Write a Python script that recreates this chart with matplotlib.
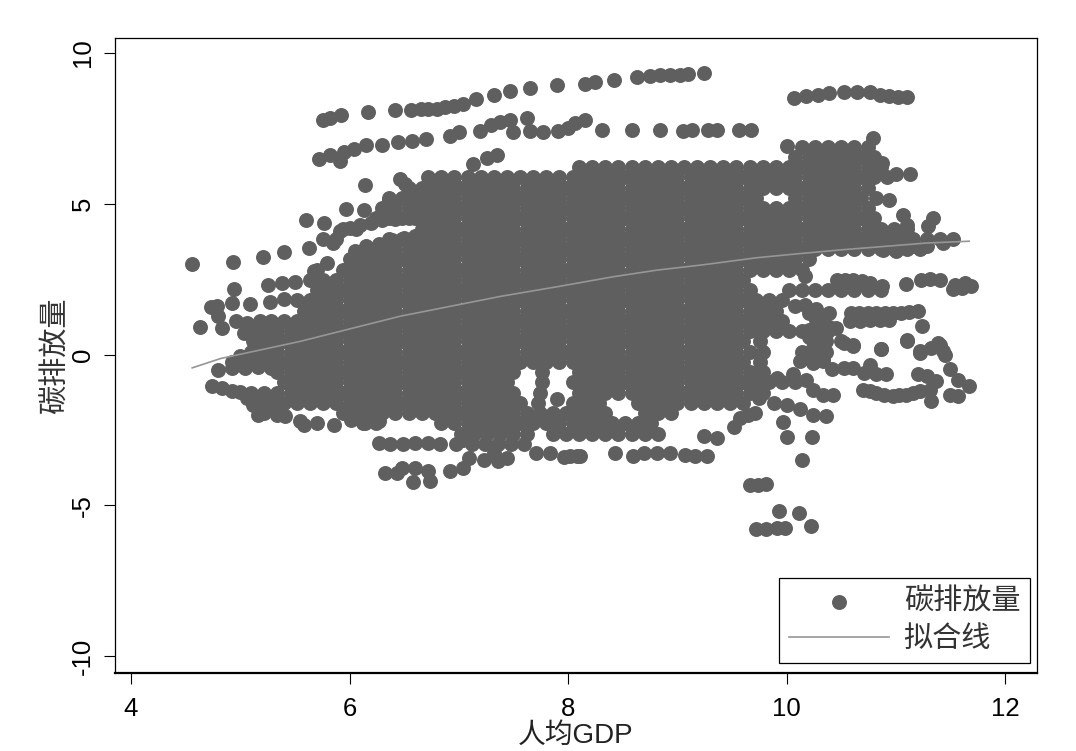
import matplotlib
matplotlib.use('Agg')
import matplotlib.pyplot as plt

plt.rcParams['font.family'] = ['Liberation Sans', 'Noto Sans CJK SC']
plt.rcParams['axes.unicode_minus'] = False

# 上方和外围能看清的点
top_x = [5.76, 5.82, 5.92, 6.17, 6.42, 6.56, 6.65, 6.72, 6.80, 6.87, 6.96, 7.04, 7.16, 7.32, 7.47, 7.65, 7.90,
         8.155, 8.25, 8.42, 8.63, 8.75, 8.84, 8.93, 9.02, 9.10, 9.24,
         10.07, 10.18, 10.29, 10.39, 10.52, 10.64, 10.76, 10.85, 10.94, 11.02, 11.10,
         5.72, 5.82, 5.91, 5.95, 6.04, 6.15, 6.30, 6.44, 6.57, 6.70, 6.92, 7.00, 7.19, 7.29, 7.38, 7.47, 7.62,
         7.50, 7.65, 7.77, 7.91, 8.00, 8.06, 8.15, 8.31, 8.58, 8.84, 9.05, 9.13, 9.28, 9.36, 9.56, 9.67,
         7.13, 7.26, 7.35, 6.14, 6.46, 6.51, 5.60, 5.77, 5.97, 6.13, 5.63, 5.40, 5.21, 4.93, 4.56]
top_y = [7.79, 7.85, 7.93, 8.04, 8.12, 8.12, 8.14, 8.15, 8.15, 8.21, 8.26, 8.32, 8.48, 8.62, 8.73, 8.84, 8.93,
         8.97, 9.03, 9.12, 9.22, 9.25, 9.27, 9.27, 9.28, 9.31, 9.33,
         8.51, 8.57, 8.62, 8.68, 8.70, 8.72, 8.70, 8.60, 8.57, 8.55, 8.53,
         6.50, 6.63, 6.41, 6.71, 6.82, 6.96, 6.96, 7.05, 7.10, 7.16, 7.26, 7.39, 7.43, 7.63, 7.70, 7.79, 7.85,
         7.38, 7.41, 7.38, 7.41, 7.52, 7.68, 7.77, 7.46, 7.46, 7.46, 7.43, 7.46, 7.46, 7.46, 7.46, 7.46,
         6.32, 6.52, 6.63, 5.64, 5.82, 5.67, 4.45, 4.38, 4.84, 4.78, 3.52, 3.39, 3.23, 3.06, 3.02]

left_x = [4.94, 5.25, 5.38, 5.50, 4.92, 5.09, 5.27, 5.40, 4.73, 4.79, 4.63, 4.80, 4.83, 4.96, 5.06, 5.18, 5.03, 5.12,
          5.00, 5.79, 5.67, 5.85, 5.91, 6.00, 6.10, 6.28, 6.36, 4.80, 4.92, 5.04, 5.16, 5.28,
          4.74, 4.92, 5.12, 5.16, 5.34, 5.41, 5.55, 5.58, 5.70, 5.86, 5.98, 6.01, 6.14, 6.27,
          6.05, 6.15, 6.27, 6.39, 6.50, 6.60, 6.20, 6.30, 6.42, 6.54, 4.83, 5.00, 5.06]
left_y = [2.18, 2.30, 2.38, 2.41, 1.71, 1.67, 1.75, 1.83, 1.57, 1.60, 0.91, 1.27, 0.87, 1.10, 1.05, 1.10, 0.72, 0.44,
          -0.05, 3.04, 2.76, 3.70, 4.09, 4.20, 4.31, 4.59, 5.14, -0.50, -0.45, -0.45, -0.42, -0.45,
          -1.05, -1.22, -1.66, -1.99, -1.99, -2.02, -2.21, -2.32, -2.27, -2.32, -1.88, -2.16, -2.27, -2.21,
          3.42, 3.60, 3.68, 3.80, 3.88, 3.93, 4.38, 4.45, 4.50, 4.54, -1.12, -1.25, -1.45]

low_x = [6.27, 6.37, 6.49, 6.60, 6.72, 6.83, 6.97, 7.04, 6.32, 6.43, 6.48, 6.60, 6.72, 6.58, 6.74, 6.92, 7.04, 7.09,
         7.23, 7.36, 7.44, 7.32, 7.71, 7.83, 7.96, 8.08, 8.02, 8.11, 8.43, 8.59, 8.69, 8.81, 8.93, 9.07, 9.16, 9.27,
         9.24, 9.36, 9.52, 9.57, 9.65, 9.71, 9.97, 10.00, 10.23, 10.14, 9.66, 9.74, 9.81, 9.93, 10.11, 10.22,
         9.72, 9.81, 9.91, 9.98, 7.90]
low_y = [-2.93, -2.98, -2.98, -2.93, -2.93, -2.98, -2.98, -2.82, -3.92, -3.92, -3.76, -3.76, -3.87, -4.23, -4.20,
         -3.85, -3.76, -3.43, -3.48, -3.54, -3.43, -3.26, -3.26, -3.26, -3.39, -3.37, -3.37, -3.37, -3.28, -3.37,
         -3.26, -3.26, -3.26, -3.32, -3.35, -3.35, -2.69, -2.76, -2.40, -2.10, -1.99, -1.93, -2.24, -2.73, -2.74,
         -3.48, -4.31, -4.31, -4.28, -5.20, -5.27, -5.69, -5.77, -5.78, -5.75, -5.75, -1.48]

right_x = [10.36, 10.24, 10.12, 10.00, 9.88, 9.75, 10.42, 10.33, 10.24, 10.18, 10.06, 9.91, 10.70, 10.82, 10.97,
           11.09, 11.22, 11.32, 11.31, 11.49, 11.57, 11.67, 11.57, 11.49, 11.37, 11.20, 11.28, 10.41, 10.52, 10.61,
           10.76, 10.71, 10.82, 10.91, 10.52, 10.61, 10.86, 11.10, 11.22, 11.32, 11.40, 11.45, 10.12, 10.24, 10.30,
           10.33, 11.43, 11.28, 11.16, 11.00, 10.88, 11.34, 11.29, 11.06, 11.10, 10.94, 10.82, 11.13, 11.00, 10.87,
           10.79, 10.00, 10.46, 10.61, 10.76, 10.87, 11.09, 11.23, 11.40, 11.54, 11.63, 11.69, 11.52, 11.60, 10.17,
           10.59, 10.74, 10.90, 11.05, 11.20, 10.58, 10.76, 10.94, 11.24, 10.39, 10.27, 10.45, 10.20, 10.50, 10.61,
           10.86, 11.10, 11.38, 11.43, 11.22, 10.17,
           10.27, 10.33, 10.39, 10.27, 10.33, 10.20, 10.36, 10.20, 10.33, 10.20, 10.33,
           10.66, 10.82, 10.97, 11.12, 10.67, 10.85, 10.76, 10.89, 11.03, 11.16, 10.53, 10.69, 11.31,
           9.96, 10.08, 10.20, 10.30]
right_y = [-2.02, -1.99, -1.82, -1.66, -1.60, -1.44, -1.33, -1.33, -1.16, -0.83, -0.66, -0.77, -1.19, -1.27, -1.38,
           -1.33, -1.22, -1.55, -1.16, -1.33, -1.38, -1.05, -0.83, -0.48, -0.88, -0.66, -0.72, -0.48, -0.44, -0.44,
           -0.33, -0.61, -0.66, -0.64, 0.39, 0.28, 0.17, 0.44, 0.05, 0.22, 0.33, 0.00, -0.22, -0.28, 0.00,
           0.33, 3.70, 3.59, 3.59, 3.43, 3.48, 4.53, 4.26, 4.64, 4.31, 5.14, 5.19, 6.00, 6.00, 6.35,
           7.18, 6.91, 2.49, 2.49, 2.38, 2.29, 2.34, 2.49, 2.49, 2.32, 2.38, 2.29, 2.16, 2.21, 1.66,
           1.38, 1.38, 1.38, 1.38, 1.44, 1.13, 1.16, 1.14, 0.96, 1.38, 1.16, 0.88, 0.83, 0.44, 0.33,
           0.17, 0.50, 0.39, 0.11, 0.11, 2.60,
           1.50, 1.15, 0.90, 0.75, 0.60, 0.60, 0.10, 0.10, -0.10, -0.10, -0.20,
           1.38, 1.38, 1.38, 1.40, 1.13, 1.15, -1.22, -1.33, -1.35, -1.27, 2.47, 2.44, 2.52,
           1.12, 1.62, 1.38, 1.30]

# 中间点完全重叠，读不出单个点，只能按每一行的左右范围估读
row_y = [6.90, 6.56, 6.22, 5.88, 5.54, 5.20, 4.86, 4.52, 4.18, 3.84, 3.50, 3.16, 2.82, 2.48, 2.14, 1.80, 1.46,
         1.12, 0.78, 0.44, 0.10, -0.24, -0.58, -0.92, -1.26, -1.60, -1.94, -2.28, -2.62, -2.96]
row_x = [
    [10.14, 10.26, 10.38, 10.50, 10.62, 10.74],
    [10.08, 10.20, 10.32, 10.44, 10.56, 10.68, 10.80],
    [8.10, 8.22, 8.34, 8.46, 8.58, 8.70, 8.82, 8.94, 9.06, 9.18, 9.30, 9.42, 9.54, 9.66, 9.78, 9.90, 10.02, 10.14,
     10.26, 10.38, 10.50, 10.62, 10.74, 10.86],
    [6.72, 6.84, 6.96, 7.08, 7.20, 7.32, 7.44, 7.56, 7.68, 7.80, 7.92, 8.04, 8.16, 8.28, 8.40, 8.52, 8.64, 8.76,
     8.88, 9.00, 9.12, 9.24, 9.36, 9.48, 9.60, 9.72, 9.84, 9.96, 10.08, 10.20, 10.32, 10.44, 10.56, 10.68, 10.80,
     10.92],
    [6.54, 6.66, 6.78, 6.90, 7.02, 7.14, 7.26, 7.38, 7.50, 7.62, 7.74, 7.86, 7.98, 8.10, 8.22, 8.34, 8.46, 8.58,
     8.70, 8.82, 8.94, 9.06, 9.18, 9.30, 9.42, 9.54, 9.66, 9.78, 9.90, 10.02, 10.14, 10.26, 10.38, 10.50, 10.62,
     10.74],
    [6.36, 6.48, 6.60, 6.72, 6.84, 6.96, 7.08, 7.20, 7.32, 7.44, 7.56, 7.68, 7.80, 7.92, 8.04, 8.16, 8.28, 8.40,
     8.52, 8.64, 8.76, 8.88, 9.00, 9.12, 9.24, 9.36, 9.48, 9.60, 9.72, 10.08, 10.20, 10.32, 10.44, 10.56, 10.68],
    [6.30, 6.42, 6.54, 6.66, 6.78, 6.90, 7.02, 7.14, 7.26, 7.38, 7.50, 7.62, 7.74, 7.86, 7.98, 8.10, 8.22, 8.34,
     8.46, 8.58, 8.70, 8.82, 8.94, 9.06, 9.18, 9.30, 9.42, 9.54, 9.66, 9.78, 9.90, 10.02, 10.14, 10.26, 10.38,
     10.50, 10.62, 10.74],
    [6.24, 6.36, 6.48, 6.60, 6.72, 6.84, 6.96, 7.08, 7.20, 7.32, 7.44, 7.56, 7.68, 7.80, 7.92, 8.04, 8.16, 8.28,
     8.40, 8.52, 8.64, 8.76, 8.88, 9.00, 9.12, 9.24, 9.36, 9.48, 9.60, 9.72, 9.84, 9.96, 10.08, 10.20, 10.32, 10.44,
     10.56, 10.68, 10.80],
    [5.94, 6.06, 6.66, 6.78, 6.90, 7.02, 7.14, 7.26, 7.38, 7.50, 7.62, 7.74, 7.86, 7.98, 8.10, 8.22, 8.34, 8.46,
     8.58, 8.70, 8.82, 8.94, 9.06, 9.18, 9.30, 9.42, 9.54, 9.66, 9.78, 9.90, 10.02, 10.14, 10.26, 10.38, 10.50,
     10.62, 10.74, 10.86, 10.98, 11.10],
    [5.76, 5.88, 6.36, 6.48, 6.60, 6.72, 6.84, 6.96, 7.08, 7.20, 7.32, 7.44, 7.56, 7.68, 7.80, 7.92, 8.04, 8.16,
     8.28, 8.40, 8.52, 8.64, 8.76, 8.88, 9.00, 9.12, 9.24, 9.36, 9.48, 9.60, 9.72, 9.84, 9.96, 10.08, 10.20, 10.32,
     10.44, 10.56, 10.68, 10.80, 10.92, 11.04, 11.16, 11.28, 11.40, 11.52],
    [6.18, 6.30, 6.42, 6.54, 6.66, 6.78, 6.90, 7.02, 7.14, 7.26, 7.38, 7.50, 7.62, 7.74, 7.86, 7.98, 8.10, 8.22,
     8.34, 8.46, 8.58, 8.70, 8.82, 8.94, 9.06, 9.18, 9.30, 9.42, 9.54, 9.66, 9.78, 9.90, 10.02, 10.14, 10.26, 10.38,
     10.50, 10.62, 10.74, 10.86, 10.98, 11.10, 11.22],
    [6.00, 6.12, 6.24, 6.36, 6.48, 6.60, 6.72, 6.84, 6.96, 7.08, 7.20, 7.32, 7.44, 7.56, 7.68, 7.80, 7.92, 8.04,
     8.16, 8.28, 8.40, 8.52, 8.64, 8.76, 8.88, 9.00, 9.12, 9.24, 9.36, 9.48, 9.60, 9.72, 9.84, 9.96, 10.08, 10.20],
    [5.70, 5.94, 6.06, 6.18, 6.30, 6.42, 6.54, 6.66, 6.78, 6.90, 7.02, 7.14, 7.26, 7.38, 7.50, 7.62, 7.74, 7.86,
     7.98, 8.10, 8.22, 8.34, 8.46, 8.58, 8.70, 8.82, 8.94, 9.06, 9.18, 9.30, 9.42, 9.54, 9.66, 9.78, 9.90, 10.02,
     10.14],
    [5.64, 5.76, 5.88, 6.00, 6.12, 6.24, 6.36, 6.48, 6.60, 6.72, 6.84, 6.96, 7.08, 7.20, 7.32, 7.44, 7.56, 7.68,
     7.80, 7.92, 8.04, 8.16, 8.28, 8.40, 8.52, 8.64, 8.76, 8.88, 9.00, 9.12, 9.24, 9.36, 9.48, 9.60],
    [5.70, 5.82, 5.94, 6.06, 6.18, 6.30, 6.42, 6.54, 6.66, 6.78, 6.90, 7.02, 7.14, 7.26, 7.38, 7.50, 7.62, 7.74,
     7.86, 7.98, 8.10, 8.22, 8.34, 8.46, 8.58, 8.70, 8.82, 8.94, 9.06, 9.18, 9.30, 9.42, 9.54, 9.66, 10.02, 10.14,
     10.26, 10.38, 10.50, 10.62, 10.74, 10.86],
    [5.52, 5.64, 5.76, 5.88, 6.00, 6.12, 6.24, 6.36, 6.48, 6.60, 6.72, 6.84, 6.96, 7.08, 7.20, 7.32, 7.44, 7.56,
     7.68, 7.80, 7.92, 8.04, 8.16, 8.28, 8.40, 8.52, 8.64, 8.76, 8.88, 9.00, 9.12, 9.24, 9.36, 9.48, 9.60, 9.72,
     9.84, 9.96],
    [5.58, 5.70, 5.82, 5.94, 6.06, 6.18, 6.30, 6.42, 6.54, 6.66, 6.78, 6.90, 7.02, 7.14, 7.26, 7.38, 7.50, 7.62,
     7.74, 7.86, 7.98, 8.10, 8.22, 8.34, 8.46, 8.58, 8.70, 8.82, 8.94, 9.06, 9.18, 9.30, 9.42, 9.54, 9.66, 9.78,
     9.90],
    [5.28, 5.40, 5.52, 5.64, 5.76, 5.88, 6.00, 6.12, 6.24, 6.36, 6.48, 6.60, 6.72, 6.84, 6.96, 7.08, 7.20, 7.32,
     7.44, 7.56, 7.68, 7.80, 7.92, 8.04, 8.16, 8.28, 8.40, 8.52, 8.64, 8.76, 8.88, 9.00, 9.12, 9.24, 9.36, 9.48,
     9.60, 9.72, 9.84],
    [5.10, 5.22, 5.34, 5.46, 5.58, 5.70, 5.82, 5.94, 6.06, 6.18, 6.30, 6.42, 6.54, 6.66, 6.78, 6.90, 7.02, 7.14,
     7.26, 7.38, 7.50, 7.62, 7.74, 7.86, 7.98, 8.10, 8.22, 8.34, 8.46, 8.58, 8.70, 8.82, 8.94, 9.06, 9.18, 9.30,
     9.42, 9.54, 9.66, 9.78, 9.90, 10.02, 10.14, 10.26, 10.38],
    [5.16, 5.28, 5.40, 5.52, 5.64, 5.76, 5.88, 6.00, 6.12, 6.24, 6.36, 6.48, 6.60, 6.72, 6.84, 6.96, 7.08, 7.20,
     7.32, 7.44, 7.56, 7.68, 7.80, 7.92, 8.04, 8.16, 8.28, 8.40, 8.52, 8.64, 8.76, 8.88, 9.00, 9.12, 9.24, 9.36,
     9.48, 9.60, 9.76, 10.24, 10.36],
    [5.10, 5.22, 5.34, 5.46, 5.58, 5.70, 5.82, 5.94, 6.06, 6.18, 6.30, 6.42, 6.54, 6.66, 6.78, 6.90, 7.02, 7.14,
     7.26, 7.38, 7.50, 7.62, 7.74, 7.86, 7.98, 8.10, 8.22, 8.34, 8.46, 8.58, 8.70, 8.82, 8.94, 9.06, 9.18, 9.30,
     9.42, 9.54, 9.66, 9.78, 10.14, 10.26],
    [4.92, 5.04, 5.16, 5.28, 5.40, 5.52, 5.64, 5.76, 5.88, 6.00, 6.12, 6.24, 6.36, 6.48, 6.60, 6.72, 6.84, 6.96,
     7.08, 7.20, 7.32, 7.44, 7.56, 7.68, 7.80, 7.92, 8.04, 8.16, 8.28, 8.40, 8.52, 8.64, 8.76, 8.88, 9.00, 9.12,
     9.24, 9.36, 9.48, 9.60, 9.76],
    [5.34, 5.46, 5.58, 5.70, 5.82, 5.94, 6.06, 6.18, 6.30, 6.42, 6.54, 6.66, 6.78, 6.90, 7.02, 7.14, 7.26, 7.38,
     7.50, 7.76, 8.10, 8.22, 8.34, 8.46, 8.58, 8.70, 8.82, 8.94, 9.06, 9.18, 9.30, 9.42, 9.54, 9.66, 9.78],
    [5.40, 5.52, 5.64, 5.76, 5.88, 6.00, 6.12, 6.24, 6.36, 6.48, 6.60, 6.72, 6.84, 6.96, 7.08, 7.20, 7.32, 7.44,
     7.76, 8.04, 8.16, 8.28, 8.40, 8.52, 8.64, 8.76, 8.88, 9.00, 9.12, 9.24, 9.36, 9.48, 9.60, 9.72, 9.84, 9.96,
     10.08],
    [5.10, 5.22, 5.34, 5.46, 5.58, 5.70, 5.82, 5.94, 6.06, 6.18, 6.30, 6.42, 6.54, 6.66, 6.78, 6.90, 7.02, 7.14,
     7.26, 7.38, 7.50, 7.74, 8.10, 8.22, 8.34, 8.46, 8.58, 8.70, 8.82, 8.94, 9.06, 9.18, 9.30, 9.42, 9.54, 9.66,
     9.78],
    [5.16, 5.28, 5.40, 5.52, 5.64, 5.76, 5.88, 6.00, 6.12, 6.24, 6.36, 6.48, 6.60, 6.72, 6.84, 6.96, 7.08, 7.20,
     7.32, 7.44, 7.56, 7.72, 8.04, 8.16, 8.28, 8.64, 8.76, 8.88, 9.00, 9.12, 9.24, 9.36, 9.48, 9.60],
    [5.22, 5.34, 5.94, 6.06, 6.18, 6.30, 6.42, 6.54, 6.66, 6.78, 6.90, 7.02, 7.14, 7.26, 7.38, 7.50, 7.62, 7.74,
     7.86, 7.98, 8.10, 8.22, 8.34, 8.70, 8.82, 8.94],
    [6.12, 6.24, 6.84, 6.96, 7.08, 7.20, 7.32, 7.44, 7.56, 7.68, 7.80, 7.92, 8.04, 8.16, 8.28, 8.40, 8.52, 8.64,
     8.76],
    [7.02, 7.14, 7.26, 7.38, 7.50, 7.62, 7.86, 7.98, 8.10, 8.22, 8.34, 8.46, 8.58, 8.70, 8.82],
    [7.12, 7.24, 7.36, 7.48, 7.60],
]

# 拟合线
fit_x = [4.56, 4.82, 5.55, 6.46, 7.38, 7.93, 8.41, 8.81, 9.24, 9.72, 10.12, 10.52, 10.97, 11.28, 11.67]
fit_y = [-0.44, -0.13, 0.44, 1.27, 1.93, 2.27, 2.58, 2.80, 2.98, 3.21, 3.35, 3.48, 3.61, 3.70, 3.76]

x_ticks = [4, 6, 8, 10, 12]
y_ticks = [-10, -5, 0, 5, 10]

scatter_x = top_x + left_x + low_x + right_x
scatter_y = top_y + left_y + low_y + right_y
for y, xs in zip(row_y, row_x):
    scatter_x = scatter_x + xs
    scatter_y = scatter_y + [y] * len(xs)

fig = plt.figure(figsize=(10.76, 7.51), dpi=100)
ax = fig.add_axes([114.5 / 1076, 78 / 751, 922.8 / 1076, 635 / 751])

ax.scatter(scatter_x, scatter_y, s=116, color='#5f5f5f', linewidths=0, label='碳排放量', zorder=2)
ax.plot(fit_x, fit_y, color='#969696', lw=1.2, label='拟合线', zorder=3)

ax.set_xlim(3.849, 12.293)
ax.set_ylim(-10.56, 10.5)
ax.set_xticks(x_ticks)
ax.set_yticks(y_ticks)
ax.tick_params(axis='both', length=8, width=0.8, labelsize=18.5, color='black')
ax.tick_params(axis='x', pad=9)
ax.tick_params(axis='y', pad=6)
for label in ax.get_yticklabels():
    label.set_rotation(90)
    label.set_verticalalignment('center')

for side in ['top', 'right', 'left']:
    ax.spines[side].set_linewidth(0.9)
ax.spines['bottom'].set_linewidth(1.6)

ax.set_xlabel('人均GDP', fontsize=20, color='#222222', labelpad=2)
ax.set_ylabel('碳排放量', fontsize=21, color='#333333', labelpad=1)

legend = ax.legend(loc='lower right', bbox_to_anchor=(0.992, 0.016), borderaxespad=0, fontsize=21,
                   frameon=True, fancybox=False, framealpha=1, edgecolor='black', scatterpoints=1,
                   handlelength=3.43, handletextpad=0.5, borderpad=0.335, labelspacing=0.32,
                   labelcolor='#333333')
legend.get_frame().set_linewidth(0.9)

plt.savefig('out.png', dpi=100)
plt.close()
